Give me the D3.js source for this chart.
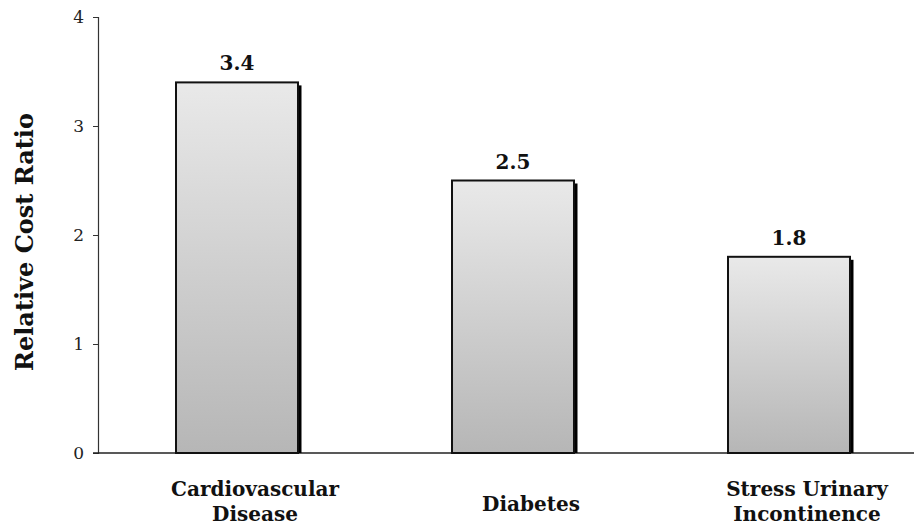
<!DOCTYPE html>
<html>
<head>
<meta charset="utf-8">
<script src="https://cdn.jsdelivr.net/npm/d3@7"></script>
<style>
	body { margin: 0; background: #fff; }
	svg { display: block; }
	.tick text { font-family: "DejaVu Serif", serif; font-size: 17px; fill: #222; }
	.catLabel, .valLabel, .yTitle { font-family: "DejaVu Serif", serif; font-weight: bold; fill: #111; }
</style>
</head>
<body>
<svg id="chart" width="914" height="531"></svg>
<script>
// data
var categories = [["Cardiovascular", "Disease"], ["Diabetes"], ["Stress Urinary", "Incontinence"]];
var values = [3.4, 2.5, 1.8];
var yTicks = [0, 1, 2, 3, 4];

var width = 914, height = 531;
var labelShift = 18; // category names sit a little right of their bars
var svg = d3.select("#chart");

// gradient for the bars, light on top, darker at the base
var grad = svg.append("defs").append("linearGradient")
	.attr("id", "barFill")
	.attr("x1", 0).attr("y1", 0).attr("x2", 0).attr("y2", 1);
grad.append("stop").attr("offset", "0%").attr("stop-color", "#e9e9e9");
grad.append("stop").attr("offset", "100%").attr("stop-color", "#b6b6b6");

var xScale = d3.scaleBand()
	.domain(d3.range(values.length))
	.range([99, 927])
	.paddingInner(0.558)
	.paddingOuter(0.279);

var yScale = d3.scaleLinear()
	.domain([0, 4])
	.range([453, 17]);

// y axis
var yAxis = svg.append("g")
	.attr("transform", "translate(98,0)")
	.call(d3.axisLeft(yScale).tickValues(yTicks).tickSize(5).tickPadding(9).tickFormat(d3.format("d")));
yAxis.select(".domain").attr("stroke", "#333").attr("stroke-width", 1.2);
yAxis.selectAll(".tick line").attr("stroke", "#333");

// x axis baseline
svg.append("line")
	.attr("x1", 93).attr("x2", width)
	.attr("y1", yScale(0)).attr("y2", yScale(0))
	.attr("stroke", "#222").attr("stroke-width", 1.5);

// y title
svg.append("text")
	.attr("class", "yTitle")
	.attr("transform", "translate(33," + 242 + ") rotate(-90)")
	.attr("text-anchor", "middle")
	.style("font-size", "24px")
	.text("Relative Cost Ratio");

var bars = svg.selectAll(".bar")
	.data(values)
	.enter().append("g")
	.attr("class", "bar");

// drop shadow on the right side
bars.append("rect")
	.attr("x", function(d, i) { return xScale(i) + xScale.bandwidth() - 1; })
	.attr("y", function(d) { return yScale(d) + 3; })
	.attr("width", 4.5)
	.attr("height", function(d) { return yScale(0) - yScale(d) - 3; })
	.attr("fill", "#000");

bars.append("rect")
	.attr("x", function(d, i) { return xScale(i); })
	.attr("y", function(d) { return yScale(d); })
	.attr("width", xScale.bandwidth())
	.attr("height", function(d) { return yScale(0) - yScale(d); })
	.attr("fill", "url(#barFill)")
	.attr("stroke", "#111")
	.attr("stroke-width", 2);

// value labels
bars.append("text")
	.attr("class", "valLabel")
	.attr("x", function(d, i) { return xScale(i) + xScale.bandwidth() / 2; })
	.attr("y", function(d) { return yScale(d) - 12; })
	.attr("text-anchor", "middle")
	.style("font-size", "20px")
	.text(function(d) { return d3.format(".1f")(d); });

// category labels
var cat = svg.selectAll(".catLabel")
	.data(categories)
	.enter().append("text")
	.attr("class", "catLabel")
	.attr("text-anchor", "middle")
	.style("font-size", "20px")
	.attr("transform", function(d, i) {
		var y = d.length > 1 ? 496 : 511;
		return "translate(" + (xScale(i) + xScale.bandwidth() / 2 + labelShift) + "," + y + ")";
	});
cat.selectAll("tspan")
	.data(function(d) { return d; })
	.enter().append("tspan")
	.attr("x", 0)
	.attr("y", function(d, j) { return j * 25; })
	.text(function(d) { return d; });
</script>
</body>
</html>
